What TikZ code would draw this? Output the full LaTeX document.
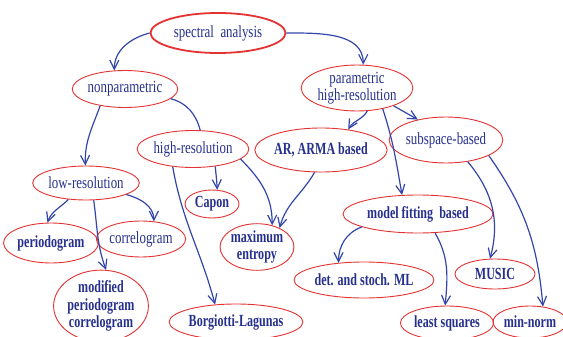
\documentclass[tikz,border=0pt]{standalone}
\usepackage{fontspec}
\setmainfont{Liberation Serif}[FakeStretch=0.76,BoldFeatures={FakeStretch=0.71}]
\usetikzlibrary{shapes.geometric,arrows.meta}
\definecolor{bordred}{RGB}{228,50,50}
\definecolor{edgeblue}{RGB}{50,70,170}
\definecolor{txtblue}{RGB}{38,48,140}
\tikzset{
  blob/.style={ellipse,draw=bordred,line width=0.9pt,inner sep=0pt,text=txtblue,
    font=\fontsize{17}{17.5}\selectfont,align=center},
  bblob/.style={blob,font=\fontsize{17}{17.5}\selectfont\bfseries},
  link/.style={draw=edgeblue,line width=1.2pt},
  arr/.style={link,-{Straight Barb[length=9pt,width=9pt,line width=1.2pt]}}
}
\begin{document}
\begin{tikzpicture}[x=1pt,y=1pt]
\useasboundingbox (0,0) rectangle (563,-337);
\node[blob,line width=1.8pt,minimum width=135pt,minimum height=40pt] (sa) at (218,-33) {spectral\ \ analysis};
\node[blob,minimum width=100pt,minimum height=37pt] (np) at (125,-89) {nonparametric};
\node[blob,minimum width=104pt,minimum height=46pt] (ph) at (357,-88) {parametric\\high-resolution};
\node[blob,minimum width=100pt,minimum height=37pt] (hr) at (193,-149) {high-resolution};
\node[bblob,minimum width=108pt,minimum height=44pt] (ar) at (321,-150) {AR, ARMA based};
\node[blob,minimum width=104pt,minimum height=46pt] (ss) at (446,-140) {subspace-based};
\node[blob,minimum width=98pt,minimum height=34pt] (lr) at (86,-183) {low-resolution};
\node[bblob,minimum width=54pt,minimum height=28pt] (cp) at (212,-204) {Capon};
\node[bblob,minimum width=80pt,minimum height=40pt] (pg) at (51,-243) {periodogram};
\node[blob,minimum width=78pt,minimum height=36pt] (cg) at (141,-239) {correlogram};
\node[bblob,minimum width=66pt,minimum height=40pt] (me) at (257,-247) {maximum\\entropy};
\node[bblob,minimum width=150pt,minimum height=38pt] (mf) at (418,-214) {model fitting\ \ based};
\node[bblob,minimum width=124pt,minimum height=36pt] (ml) at (364,-280) {det. and stoch. ML};
\node[bblob,minimum width=80pt,minimum height=30pt] (mu) at (495,-274) {MUSIC};
\node[bblob,minimum width=88pt,minimum height=68pt] (mp) at (101,-306) {modified\\periodogram\\correlogram};
\node[bblob,minimum width=118pt,minimum height=36pt] (bl) at (236,-322) {Borgiotti-Lagunas};
\node[bblob,minimum width=72pt,minimum height=34pt] (ls) at (447,-323) {least squares};
\node[bblob,minimum width=68pt,minimum height=32pt] (mn) at (530,-322) {min-norm};
% connectors
\draw[arr] (sa.180) to[out=195,in=90] (np.120);
\draw[arr] (sa.0) to[out=0,in=90] (ph.75);
\draw[arr] (np.214) to[out=250,in=92] (lr.92);
\draw[link] (np.-12) to[out=-15,in=105] (hr.69);
\draw[arr] (ph.-66) to[out=240,in=60] (ar.37);
\draw[arr] (ph.-26) -- (ss.144);
\draw[arr] (ph.-39) to[out=-72,in=100] (mf.130);
\draw[arr] (hr.-38) to[out=-85,in=92] (cp.70);
\draw[arr] (hr.221) to[out=-80,in=105] (bl.140);
\draw[arr] (hr.-12) to[out=-45,in=90] (me.55);
\draw[arr] (ar.254) to[out=240,in=75] (me.40);
\draw[arr] (lr.223) to[out=225,in=70] (pg.100);
\draw[arr] (lr.-66) to[out=-82,in=110] (mp.82);
\draw[arr] (lr.-16) to[out=-15,in=90] (cg.54);
\draw[arr] (ss.-45) to[out=-50,in=75] (mu.108);
\draw[arr] (ss.-20) to[out=-55,in=95] (mn.50);
\draw[arr] (mf.193) to[out=200,in=90] (ml.146);
\draw[arr] (mf.-48) to[out=-60,in=85] (ls.96);
\end{tikzpicture}
\end{document}
